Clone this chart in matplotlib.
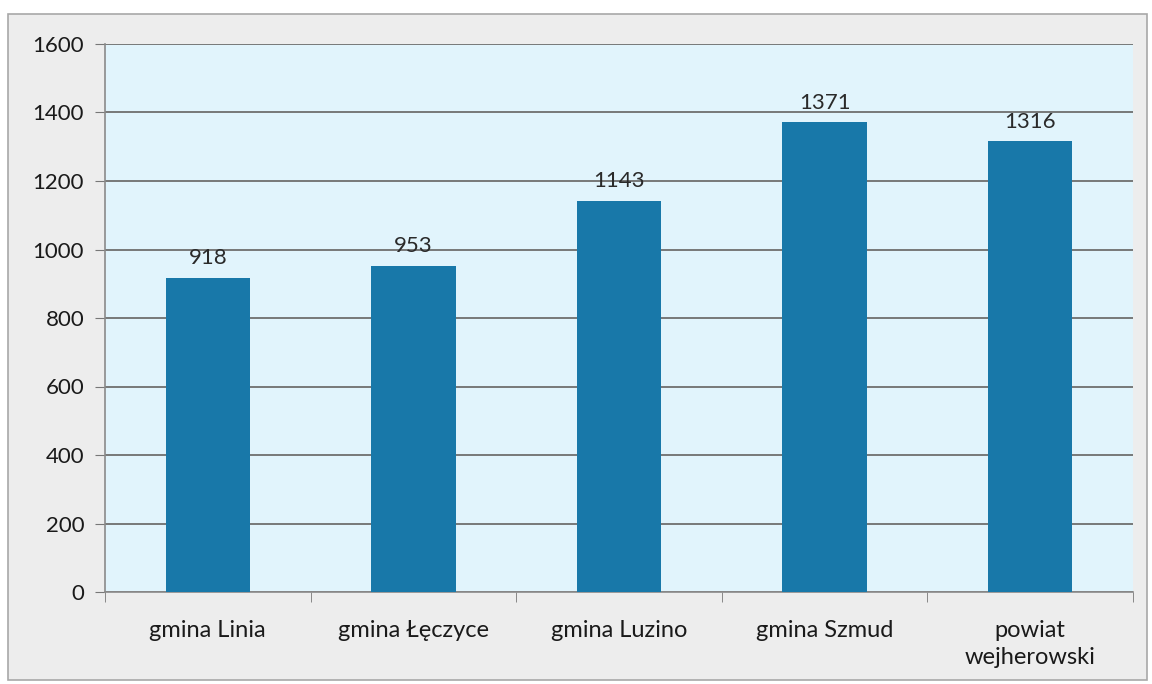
import numpy as np
import matplotlib.pyplot as plt
from matplotlib.patches import Rectangle

# dane
kategorie = ['gmina Linia', 'gmina Łęczyce', 'gmina Luzino', 'gmina Szmud', 'powiat\nwejherowski']
wartosci = [918, 953, 1143, 1371, 1316]
y_ticks = [0, 200, 400, 600, 800, 1000, 1200, 1400, 1600]

plt.rcParams['font.family'] = ['Lato', 'DejaVu Sans']

fig = plt.figure(figsize=(11.52, 6.84), dpi=100)
fig.patch.set_facecolor('white')

# ramka wykresu
fig.add_artist(Rectangle((8 / 1152, 1 - 680 / 684), 1139 / 1152, 666 / 684,
                         transform=fig.transFigure, facecolor='#ededed',
                         edgecolor='#a8a8a8', linewidth=1.2, zorder=-10))

ax = fig.add_axes([105 / 1152, 1 - 592 / 684, 1028 / 1152, 548 / 684])
ax.set_facecolor('#e1f4fc')

x = np.arange(len(kategorie))
bars = ax.bar(x, wartosci, width=0.41, color='#1878a9', zorder=3)

for xi, v in zip(x, wartosci):
    ax.text(xi, v + 28, str(v), ha='center', va='bottom', fontsize=16, color='#2a2a2a', zorder=4)

ax.set_xlim(-0.5, len(kategorie) - 0.5)
ax.set_ylim(0, 1600)
ax.set_yticks(y_ticks)
ax.set_yticklabels([str(t) for t in y_ticks], fontsize=16, color='#1a1a1a')
ax.set_xticks(x)
ax.set_xticklabels(kategorie, fontsize=17, color='#1a1a1a', linespacing=1.35)
ax.set_xticks(np.arange(-0.5, len(kategorie)), minor=True)
ax.tick_params(axis='x', which='major', length=0, pad=20)
ax.tick_params(axis='x', which='minor', length=7, color='#777777', direction='out')
ax.tick_params(axis='y', length=7, color='#777777', pad=8)

ax.yaxis.grid(True, color='#6e6e6e', linewidth=1.3, zorder=1)
ax.set_axisbelow(True)

for s in ['top', 'right']:
    ax.spines[s].set_visible(False)
for s in ['left', 'bottom']:
    ax.spines[s].set_color('#8a8a8a')
    ax.spines[s].set_linewidth(1.2)

plt.savefig('out.png', dpi=100)
